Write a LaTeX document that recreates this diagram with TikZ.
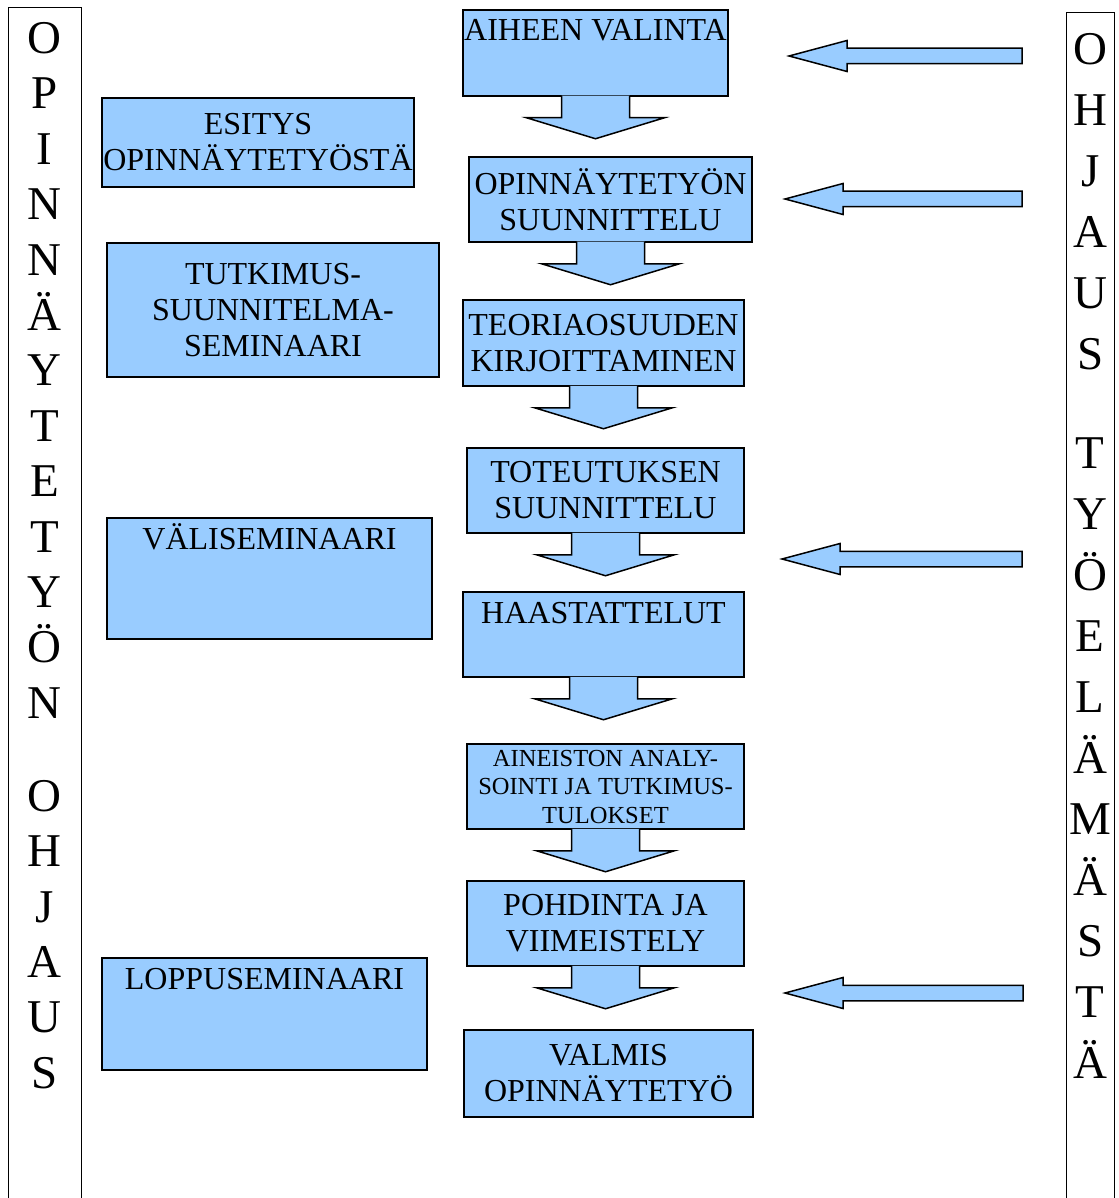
\documentclass[tikz,border=0pt]{standalone}
\usepackage{fontspec}
\setmainfont{Liberation Serif}
\usepackage{tikz}
\definecolor{VaiheSininen}{HTML}{99CCFF}
\definecolor{VaiheViiva}{HTML}{000000}

\tikzset{
  pics/alasnuoli/.style={code={
    \fill[VaiheSininen] (-34,-1) -- (-34,21) -- (-69,21) -- (0,42) -- (69,21) -- (34,21) -- (34,-1) -- cycle;
    \draw[VaiheViiva, line width=1.5pt] (-34,-0.75) -- (-34,21) -- (-69,21) -- (0,42) -- (69,21) -- (34,21) -- (34,-0.75);
  }},
  pics/vasennuoli/.style={code={
    \draw[VaiheViiva, fill=VaiheSininen, line width=1.5pt] (0,-7.75) -- (0,7.75) -- (-#1+58,7.75) -- (-#1+58,15.5)
      -- (-#1,0) -- (-#1+58,-15.5) -- (-#1+58,-7.75) -- cycle;
  }}
}

\begin{document}
\begin{tikzpicture}[x=1pt, y=-1pt,
  vaihe/.style={draw=VaiheViiva, fill=VaiheSininen, line width=1.5pt, align=center, inner sep=0pt, font=\fontsize{32}{36}\selectfont},
  ylavaihe/.style={vaihe, text height=31pt, text depth=#1},
  palkki/.style={draw=VaiheViiva, line width=1pt, align=center, inner sep=0pt, anchor=north}]
  \useasboundingbox (0,0) rectangle (1118,1198);
  \clip (0,0) rectangle (1118,1198);

  \node[palkki, minimum width=72.5pt, text height=1080.8pt, text depth=139.2pt, font=\fontsize{47}{55.4}\selectfont] (ohjaus) at (44.75,7)
    {O\\P\\I\\N\\N\\Ä\\Y\\T\\E\\T\\Y\\Ö\\N\\[37.6pt]O\\H\\J\\A\\U\\S};
  \node[palkki, minimum width=48.5pt, text height=1066pt, text depth=154pt, font=\fontsize{47}{61}\selectfont] (tyoelama) at (1090.25,12)
    {O\\H\\J\\A\\U\\S\\[38pt]T\\Y\\Ö\\E\\L\\Ä\\M\\Ä\\S\\T\\Ä};

  \node[ylavaihe=55pt, minimum width=265pt] (valinta) at (595.5,53) {AIHEEN VALINTA};
  \node[vaihe, minimum width=283pt, minimum height=85pt] (suunnittelu) at (610.5,199.5) {OPINNÄYTETYÖN\\SUUNNITTELU};
  \node[vaihe, minimum width=281pt, minimum height=86pt] (teoria) at (603.5,343) {TEORIAOSUUDEN\\KIRJOITTAMINEN};
  \node[vaihe, minimum width=277pt, minimum height=85pt] (toteutus) at (605.5,490.5) {TOTEUTUKSEN\\SUUNNITTELU};
  \node[ylavaihe=54pt, minimum width=281pt] (haastattelut) at (603.5,634.5) {HAASTATTELUT};
  \node[vaihe, minimum width=277pt, minimum height=85pt, font=\fontsize{24.5}{28.5}\selectfont] (aineisto) at (605.5,786.5)
    {AINEISTON ANALY-\\SOINTI JA TUTKIMUS-\\TULOKSET};
  \node[vaihe, minimum width=277pt, minimum height=85pt] (pohdinta) at (605.5,923.5) {POHDINTA JA\\VIIMEISTELY};
  \node[vaihe, minimum width=289pt, minimum height=87pt] (valmis) at (608.5,1073.5) {VALMIS\\OPINNÄYTETYÖ};

  \node[vaihe, minimum width=312pt, minimum height=89pt] (esitys) at (258,142.5) {ESITYS\\OPINNÄYTETYÖSTÄ};
  \node[vaihe, minimum width=332pt, minimum height=134pt] (tutkimus) at (273,310) {TUTKIMUS-\\SUUNNITELMA-\\SEMINAARI};
  \node[ylavaihe=90pt, minimum width=325pt] (valiseminaari) at (269.5,578.5) {VÄLISEMINAARI};
  \node[ylavaihe=81pt, minimum width=325pt] (loppuseminaari) at (264.5,1014) {LOPPUSEMINAARI};

  \pic at (valinta.south) {alasnuoli};
  \pic at (suunnittelu.south) {alasnuoli};
  \pic at (teoria.south) {alasnuoli};
  \pic at (toteutus.south) {alasnuoli};
  \pic at (haastattelut.south) {alasnuoli};
  \pic at (aineisto.south) {alasnuoli};
  \pic at (pohdinta.south) {alasnuoli};

  \coordinate (palaute1) at (1022,56);
  \coordinate (palaute2) at (1022,199);
  \coordinate (palaute3) at (1022,559);
  \coordinate (palaute4) at (1023,993);
  \pic at (palaute1) {vasennuoli=233};
  \pic at (palaute2) {vasennuoli=237};
  \pic at (palaute3) {vasennuoli=240};
  \pic at (palaute4) {vasennuoli=238};
\end{tikzpicture}
\end{document}
